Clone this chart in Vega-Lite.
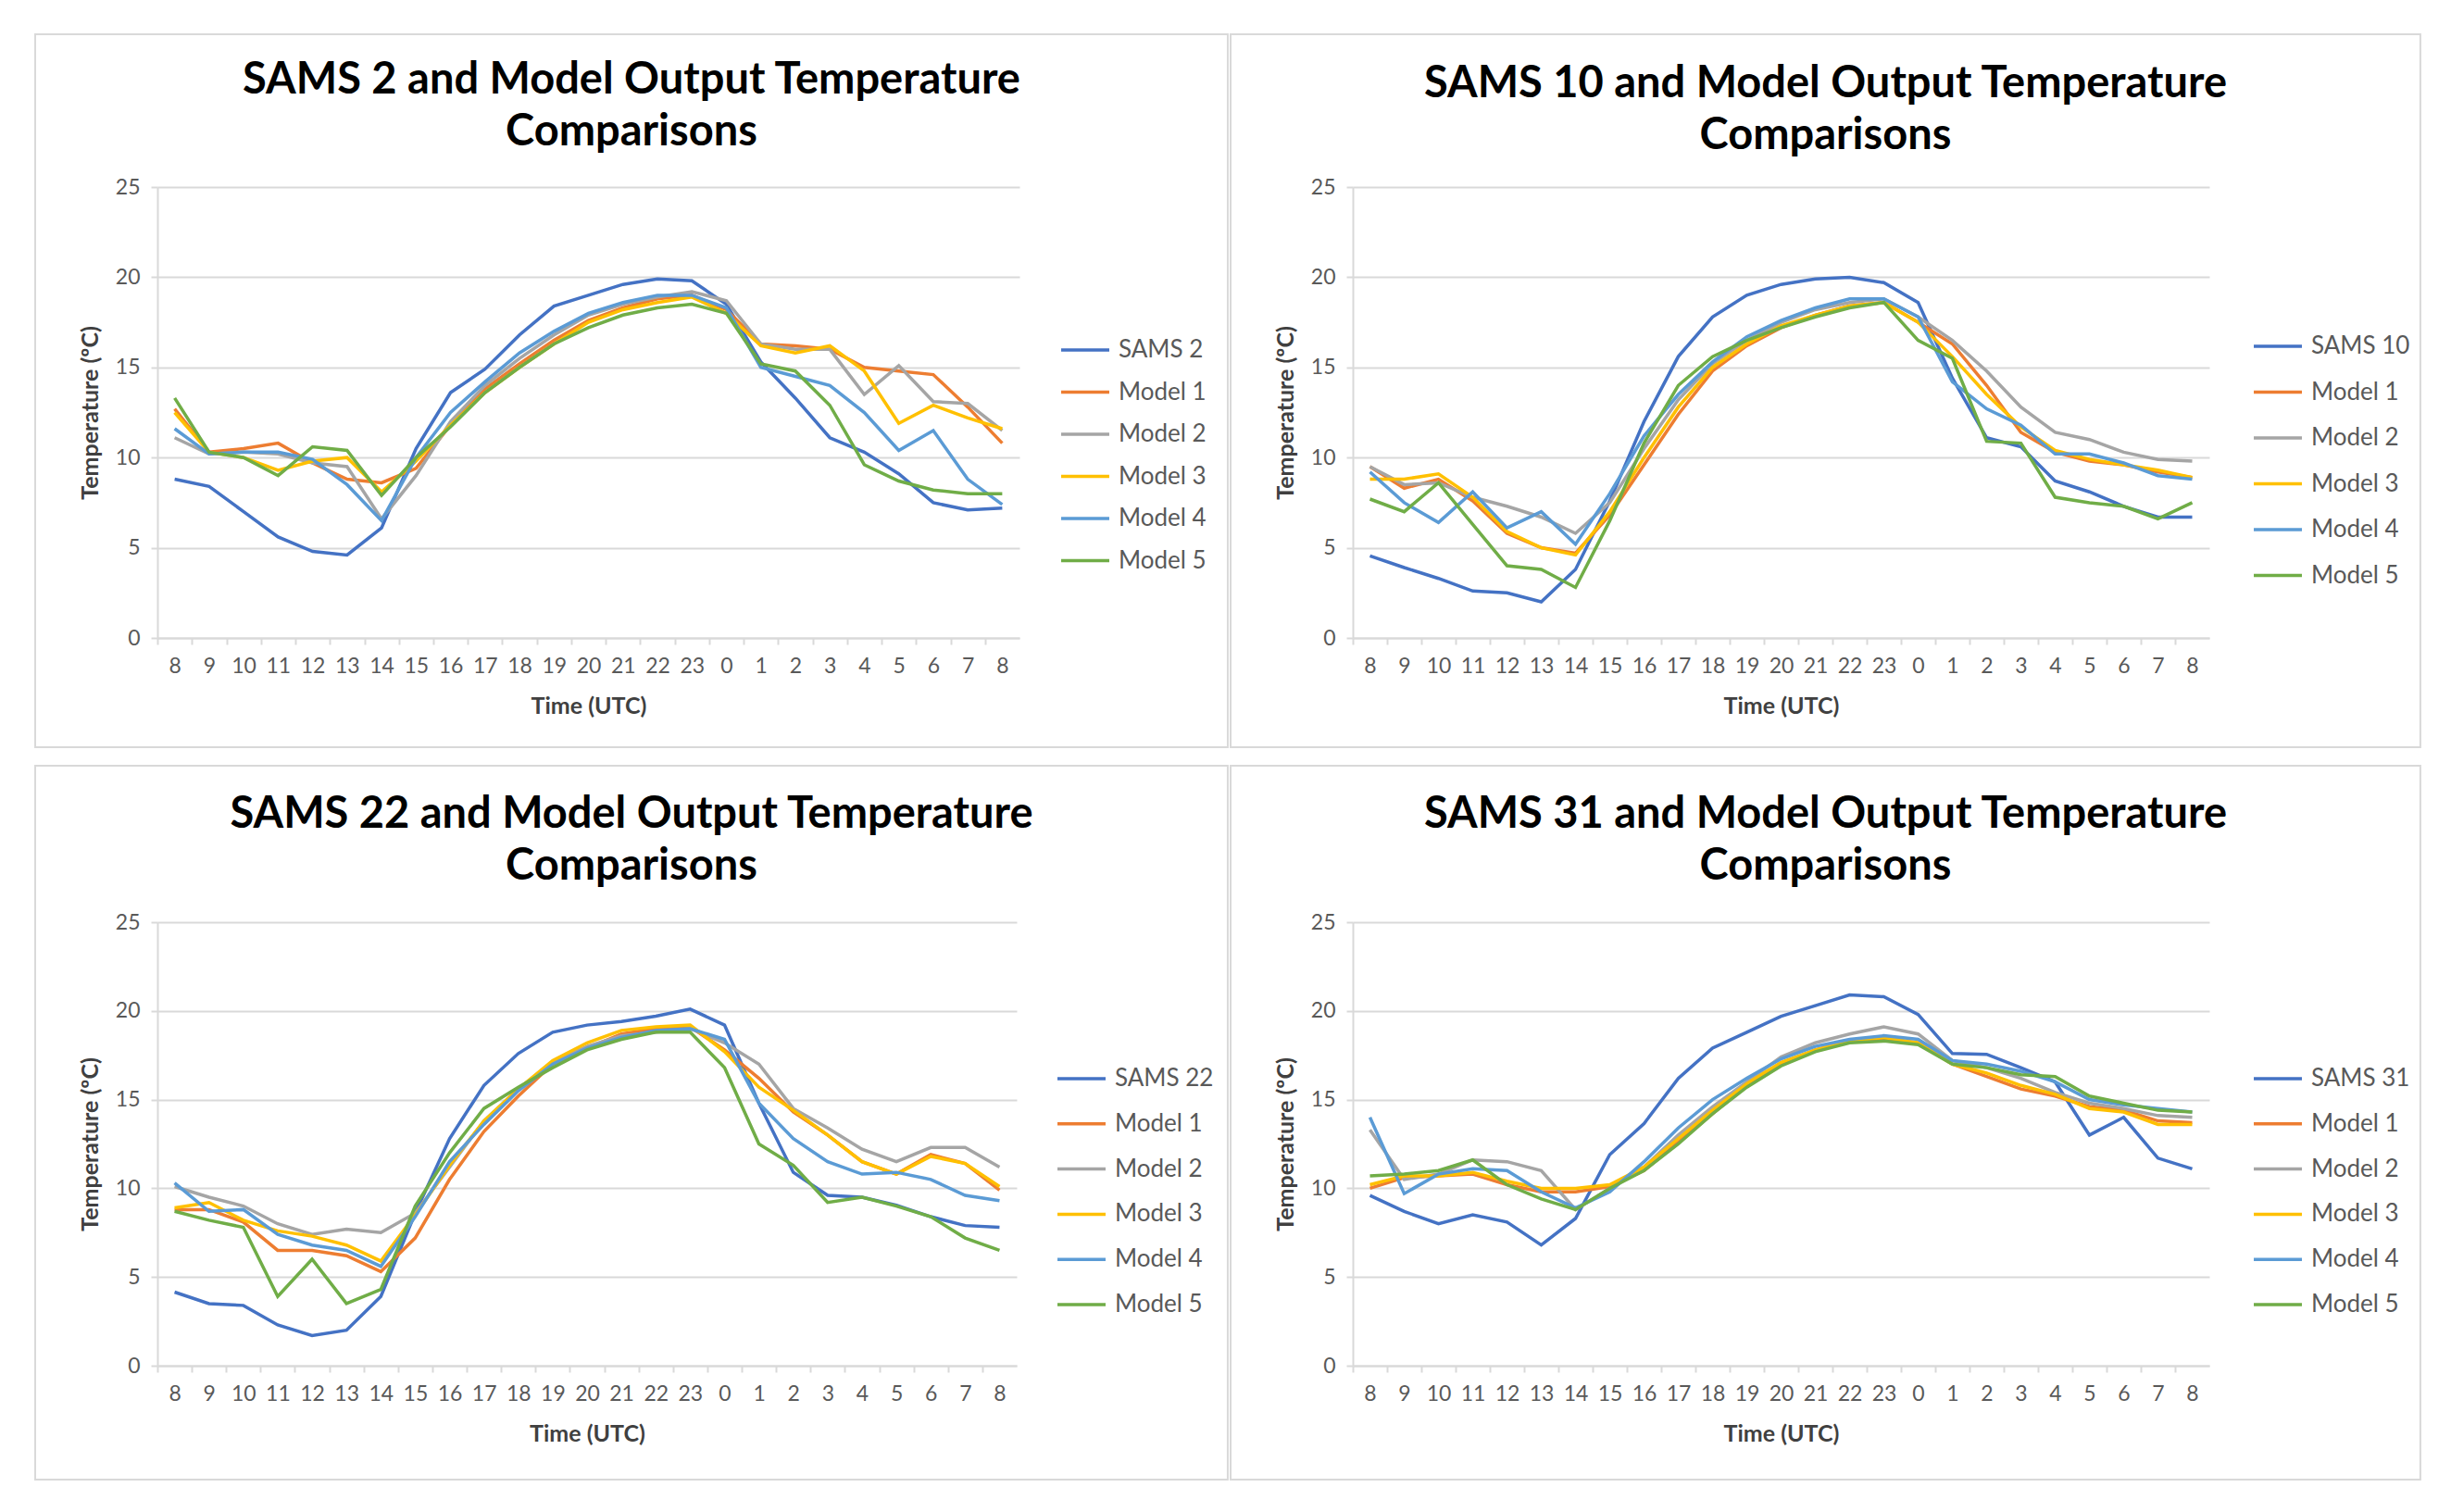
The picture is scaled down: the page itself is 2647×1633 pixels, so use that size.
{
  "$schema": "https://vega.github.io/schema/vega-lite/v6.json",
  "background": "white",
  "padding": {"left": 36, "top": 36, "right": 0, "bottom": 0},
  "config": {
    "font": "Lato",
    "view": {"stroke": null},
    "title": {"fontSize": 47, "fontWeight": "bold", "color": "#000000", "lineHeight": 56, "anchor": "middle", "frame": "bounds"},
    "axisX": {"labelOverlap": false, "labelFlush": false, "grid": false, "domainColor": "#D9D9D9", "domainWidth": 2, "tickColor": "#D9D9D9", "tickWidth": 2, "tickSize": 7, "tickOffset": -18.55, "labelOffset": 18.55, "labelPadding": 12, "labelFontSize": 23, "labelColor": "#595959", "titleFontSize": 25, "titleFontWeight": "bold", "titleColor": "#404040", "titlePadding": 19},
    "axisY": {"grid": true, "gridColor": "#D9D9D9", "gridWidth": 2, "domainColor": "#D9D9D9", "domainWidth": 2, "tickColor": "#D9D9D9", "tickSize": 7, "tickWidth": 2, "labelPadding": 12, "labelFontSize": 23, "labelColor": "#595959", "titleFontSize": 25, "titleFontWeight": "bold", "titleColor": "#404040", "titlePadding": 14},
    "legend": {"title": null, "orient": "none", "symbolType": "stroke", "symbolStrokeWidth": 3.5, "symbolSize": 2700, "labelFontSize": 26, "labelColor": "#595959", "labelOffset": 8}
  },
  "datasets": {
    "p1": [
      {"i":0,"hour":8,"SAMS 2":8.8,"Model 1":12.7,"Model 2":11.1,"Model 3":12.5,"Model 4":11.6,"Model 5":13.3},
      {"i":1,"hour":9,"SAMS 2":8.4,"Model 1":10.3,"Model 2":10.2,"Model 3":10.3,"Model 4":10.2,"Model 5":10.3},
      {"i":2,"hour":10,"SAMS 2":7.0,"Model 1":10.5,"Model 2":10.3,"Model 3":10.0,"Model 4":10.3,"Model 5":10.0},
      {"i":3,"hour":11,"SAMS 2":5.6,"Model 1":10.8,"Model 2":10.2,"Model 3":9.3,"Model 4":10.3,"Model 5":9.0},
      {"i":4,"hour":12,"SAMS 2":4.8,"Model 1":9.7,"Model 2":9.7,"Model 3":9.8,"Model 4":9.9,"Model 5":10.6},
      {"i":5,"hour":13,"SAMS 2":4.6,"Model 1":8.8,"Model 2":9.5,"Model 3":10.0,"Model 4":8.5,"Model 5":10.4},
      {"i":6,"hour":14,"SAMS 2":6.1,"Model 1":8.6,"Model 2":6.6,"Model 3":8.1,"Model 4":6.5,"Model 5":7.9},
      {"i":7,"hour":15,"SAMS 2":10.5,"Model 1":9.4,"Model 2":9.0,"Model 3":9.8,"Model 4":10.0,"Model 5":10.0},
      {"i":8,"hour":16,"SAMS 2":13.6,"Model 1":11.8,"Model 2":12.0,"Model 3":11.8,"Model 4":12.5,"Model 5":11.7},
      {"i":9,"hour":17,"SAMS 2":14.9,"Model 1":13.8,"Model 2":14.0,"Model 3":13.6,"Model 4":14.2,"Model 5":13.6},
      {"i":10,"hour":18,"SAMS 2":16.8,"Model 1":15.2,"Model 2":15.5,"Model 3":15.0,"Model 4":15.8,"Model 5":15.0},
      {"i":11,"hour":19,"SAMS 2":18.4,"Model 1":16.5,"Model 2":16.8,"Model 3":16.3,"Model 4":17.0,"Model 5":16.3},
      {"i":12,"hour":20,"SAMS 2":19.0,"Model 1":17.6,"Model 2":17.9,"Model 3":17.5,"Model 4":18.0,"Model 5":17.2},
      {"i":13,"hour":21,"SAMS 2":19.6,"Model 1":18.3,"Model 2":18.5,"Model 3":18.2,"Model 4":18.6,"Model 5":17.9},
      {"i":14,"hour":22,"SAMS 2":19.9,"Model 1":18.8,"Model 2":18.9,"Model 3":18.6,"Model 4":19.0,"Model 5":18.3},
      {"i":15,"hour":23,"SAMS 2":19.8,"Model 1":19.0,"Model 2":19.2,"Model 3":18.9,"Model 4":19.0,"Model 5":18.5},
      {"i":16,"hour":0,"SAMS 2":18.5,"Model 1":18.2,"Model 2":18.7,"Model 3":18.0,"Model 4":18.3,"Model 5":18.0},
      {"i":17,"hour":1,"SAMS 2":15.3,"Model 1":16.3,"Model 2":16.3,"Model 3":16.2,"Model 4":15.0,"Model 5":15.2},
      {"i":18,"hour":2,"SAMS 2":13.3,"Model 1":16.2,"Model 2":16.0,"Model 3":15.8,"Model 4":14.5,"Model 5":14.8},
      {"i":19,"hour":3,"SAMS 2":11.1,"Model 1":16.0,"Model 2":16.0,"Model 3":16.2,"Model 4":14.0,"Model 5":12.9},
      {"i":20,"hour":4,"SAMS 2":10.3,"Model 1":15.0,"Model 2":13.5,"Model 3":14.8,"Model 4":12.5,"Model 5":9.6},
      {"i":21,"hour":5,"SAMS 2":9.1,"Model 1":14.8,"Model 2":15.1,"Model 3":11.9,"Model 4":10.4,"Model 5":8.7},
      {"i":22,"hour":6,"SAMS 2":7.5,"Model 1":14.6,"Model 2":13.1,"Model 3":12.9,"Model 4":11.5,"Model 5":8.2},
      {"i":23,"hour":7,"SAMS 2":7.1,"Model 1":12.8,"Model 2":13.0,"Model 3":12.2,"Model 4":8.8,"Model 5":8.0},
      {"i":24,"hour":8,"SAMS 2":7.2,"Model 1":10.8,"Model 2":11.5,"Model 3":11.6,"Model 4":7.4,"Model 5":8.0}
    ],
    "p2": [
      {"i":0,"hour":8,"SAMS 10":4.55,"Model 1":9.5,"Model 2":9.5,"Model 3":8.8,"Model 4":9.2,"Model 5":7.7},
      {"i":1,"hour":9,"SAMS 10":3.9,"Model 1":8.3,"Model 2":8.5,"Model 3":8.8,"Model 4":7.5,"Model 5":7.0},
      {"i":2,"hour":10,"SAMS 10":3.3,"Model 1":8.8,"Model 2":8.6,"Model 3":9.1,"Model 4":6.4,"Model 5":8.6},
      {"i":3,"hour":11,"SAMS 10":2.6,"Model 1":7.6,"Model 2":7.8,"Model 3":7.8,"Model 4":8.1,"Model 5":6.3},
      {"i":4,"hour":12,"SAMS 10":2.5,"Model 1":5.8,"Model 2":7.3,"Model 3":5.9,"Model 4":6.1,"Model 5":4.0},
      {"i":5,"hour":13,"SAMS 10":2.0,"Model 1":5.0,"Model 2":6.7,"Model 3":5.0,"Model 4":7.0,"Model 5":3.8},
      {"i":6,"hour":14,"SAMS 10":3.8,"Model 1":4.7,"Model 2":5.8,"Model 3":4.6,"Model 4":5.2,"Model 5":2.8},
      {"i":7,"hour":15,"SAMS 10":7.6,"Model 1":6.8,"Model 2":7.5,"Model 3":7.0,"Model 4":8.0,"Model 5":6.5},
      {"i":8,"hour":16,"SAMS 10":12.0,"Model 1":9.6,"Model 2":10.5,"Model 3":10.0,"Model 4":11.2,"Model 5":10.8},
      {"i":9,"hour":17,"SAMS 10":15.6,"Model 1":12.4,"Model 2":13.2,"Model 3":12.8,"Model 4":13.5,"Model 5":14.0},
      {"i":10,"hour":18,"SAMS 10":17.8,"Model 1":14.8,"Model 2":15.2,"Model 3":15.0,"Model 4":15.3,"Model 5":15.6},
      {"i":11,"hour":19,"SAMS 10":19.0,"Model 1":16.2,"Model 2":16.5,"Model 3":16.3,"Model 4":16.7,"Model 5":16.5},
      {"i":12,"hour":20,"SAMS 10":19.6,"Model 1":17.2,"Model 2":17.5,"Model 3":17.3,"Model 4":17.6,"Model 5":17.2},
      {"i":13,"hour":21,"SAMS 10":19.9,"Model 1":17.9,"Model 2":18.2,"Model 3":17.9,"Model 4":18.3,"Model 5":17.8},
      {"i":14,"hour":22,"SAMS 10":20.0,"Model 1":18.4,"Model 2":18.6,"Model 3":18.4,"Model 4":18.8,"Model 5":18.3},
      {"i":15,"hour":23,"SAMS 10":19.7,"Model 1":18.6,"Model 2":18.8,"Model 3":18.6,"Model 4":18.8,"Model 5":18.6},
      {"i":16,"hour":0,"SAMS 10":18.6,"Model 1":17.5,"Model 2":17.8,"Model 3":17.5,"Model 4":17.8,"Model 5":16.5},
      {"i":17,"hour":1,"SAMS 10":14.4,"Model 1":16.3,"Model 2":16.5,"Model 3":15.6,"Model 4":14.2,"Model 5":15.5},
      {"i":18,"hour":2,"SAMS 10":11.1,"Model 1":14.0,"Model 2":14.8,"Model 3":13.5,"Model 4":12.7,"Model 5":10.9},
      {"i":19,"hour":3,"SAMS 10":10.6,"Model 1":11.4,"Model 2":12.8,"Model 3":11.7,"Model 4":11.8,"Model 5":10.8},
      {"i":20,"hour":4,"SAMS 10":8.7,"Model 1":10.3,"Model 2":11.4,"Model 3":10.4,"Model 4":10.2,"Model 5":7.8},
      {"i":21,"hour":5,"SAMS 10":8.1,"Model 1":9.8,"Model 2":11.0,"Model 3":9.9,"Model 4":10.2,"Model 5":7.5},
      {"i":22,"hour":6,"SAMS 10":7.3,"Model 1":9.6,"Model 2":10.3,"Model 3":9.6,"Model 4":9.7,"Model 5":7.3},
      {"i":23,"hour":7,"SAMS 10":6.7,"Model 1":9.2,"Model 2":9.9,"Model 3":9.3,"Model 4":9.0,"Model 5":6.6},
      {"i":24,"hour":8,"SAMS 10":6.7,"Model 1":8.9,"Model 2":9.8,"Model 3":8.9,"Model 4":8.8,"Model 5":7.5}
    ],
    "p3": [
      {"i":0,"hour":8,"SAMS 22":4.15,"Model 1":8.8,"Model 2":10.1,"Model 3":8.9,"Model 4":10.3,"Model 5":8.7},
      {"i":1,"hour":9,"SAMS 22":3.5,"Model 1":8.8,"Model 2":9.5,"Model 3":9.2,"Model 4":8.7,"Model 5":8.2},
      {"i":2,"hour":10,"SAMS 22":3.4,"Model 1":8.1,"Model 2":9.0,"Model 3":8.2,"Model 4":8.8,"Model 5":7.8},
      {"i":3,"hour":11,"SAMS 22":2.3,"Model 1":6.5,"Model 2":8.0,"Model 3":7.6,"Model 4":7.4,"Model 5":3.9},
      {"i":4,"hour":12,"SAMS 22":1.7,"Model 1":6.5,"Model 2":7.4,"Model 3":7.3,"Model 4":6.8,"Model 5":6.0},
      {"i":5,"hour":13,"SAMS 22":2.0,"Model 1":6.2,"Model 2":7.7,"Model 3":6.8,"Model 4":6.5,"Model 5":3.5},
      {"i":6,"hour":14,"SAMS 22":3.9,"Model 1":5.3,"Model 2":7.5,"Model 3":5.9,"Model 4":5.6,"Model 5":4.3},
      {"i":7,"hour":15,"SAMS 22":8.6,"Model 1":7.2,"Model 2":8.6,"Model 3":8.5,"Model 4":8.4,"Model 5":9.0},
      {"i":8,"hour":16,"SAMS 22":12.8,"Model 1":10.5,"Model 2":11.2,"Model 3":11.3,"Model 4":11.5,"Model 5":12.0},
      {"i":9,"hour":17,"SAMS 22":15.8,"Model 1":13.2,"Model 2":13.8,"Model 3":13.8,"Model 4":13.6,"Model 5":14.5},
      {"i":10,"hour":18,"SAMS 22":17.6,"Model 1":15.2,"Model 2":15.6,"Model 3":15.6,"Model 4":15.5,"Model 5":15.7},
      {"i":11,"hour":19,"SAMS 22":18.8,"Model 1":17.0,"Model 2":17.1,"Model 3":17.2,"Model 4":17.0,"Model 5":16.8},
      {"i":12,"hour":20,"SAMS 22":19.2,"Model 1":17.9,"Model 2":18.0,"Model 3":18.2,"Model 4":17.9,"Model 5":17.8},
      {"i":13,"hour":21,"SAMS 22":19.4,"Model 1":18.7,"Model 2":18.6,"Model 3":18.9,"Model 4":18.5,"Model 5":18.4},
      {"i":14,"hour":22,"SAMS 22":19.7,"Model 1":19.0,"Model 2":18.8,"Model 3":19.1,"Model 4":18.9,"Model 5":18.8},
      {"i":15,"hour":23,"SAMS 22":20.1,"Model 1":19.1,"Model 2":19.0,"Model 3":19.2,"Model 4":19.0,"Model 5":18.8},
      {"i":16,"hour":0,"SAMS 22":19.2,"Model 1":17.8,"Model 2":18.2,"Model 3":17.7,"Model 4":18.4,"Model 5":16.8},
      {"i":17,"hour":1,"SAMS 22":14.8,"Model 1":16.2,"Model 2":17.0,"Model 3":15.7,"Model 4":14.8,"Model 5":12.5},
      {"i":18,"hour":2,"SAMS 22":10.9,"Model 1":14.3,"Model 2":14.5,"Model 3":14.4,"Model 4":12.8,"Model 5":11.3},
      {"i":19,"hour":3,"SAMS 22":9.6,"Model 1":13.0,"Model 2":13.4,"Model 3":13.0,"Model 4":11.5,"Model 5":9.2},
      {"i":20,"hour":4,"SAMS 22":9.5,"Model 1":11.5,"Model 2":12.2,"Model 3":11.5,"Model 4":10.8,"Model 5":9.5},
      {"i":21,"hour":5,"SAMS 22":9.05,"Model 1":10.8,"Model 2":11.5,"Model 3":10.8,"Model 4":10.9,"Model 5":9.0},
      {"i":22,"hour":6,"SAMS 22":8.4,"Model 1":11.9,"Model 2":12.3,"Model 3":11.8,"Model 4":10.5,"Model 5":8.4},
      {"i":23,"hour":7,"SAMS 22":7.9,"Model 1":11.4,"Model 2":12.3,"Model 3":11.4,"Model 4":9.6,"Model 5":7.2},
      {"i":24,"hour":8,"SAMS 22":7.8,"Model 1":9.9,"Model 2":11.2,"Model 3":10.1,"Model 4":9.3,"Model 5":6.5}
    ],
    "p4": [
      {"i":0,"hour":8,"SAMS 31":9.6,"Model 1":10.0,"Model 2":13.3,"Model 3":10.2,"Model 4":14.0,"Model 5":10.7},
      {"i":1,"hour":9,"SAMS 31":8.7,"Model 1":10.6,"Model 2":10.5,"Model 3":10.7,"Model 4":9.7,"Model 5":10.8},
      {"i":2,"hour":10,"SAMS 31":8.0,"Model 1":10.7,"Model 2":10.8,"Model 3":10.7,"Model 4":10.8,"Model 5":11.0},
      {"i":3,"hour":11,"SAMS 31":8.5,"Model 1":10.8,"Model 2":11.6,"Model 3":10.9,"Model 4":11.1,"Model 5":11.6},
      {"i":4,"hour":12,"SAMS 31":8.1,"Model 1":10.2,"Model 2":11.5,"Model 3":10.4,"Model 4":11.0,"Model 5":10.2},
      {"i":5,"hour":13,"SAMS 31":6.8,"Model 1":9.8,"Model 2":11.0,"Model 3":10.0,"Model 4":9.8,"Model 5":9.4},
      {"i":6,"hour":14,"SAMS 31":8.3,"Model 1":9.8,"Model 2":8.8,"Model 3":10.0,"Model 4":8.9,"Model 5":8.8},
      {"i":7,"hour":15,"SAMS 31":11.9,"Model 1":10.1,"Model 2":10.0,"Model 3":10.2,"Model 4":9.8,"Model 5":10.0},
      {"i":8,"hour":16,"SAMS 31":13.65,"Model 1":11.0,"Model 2":11.2,"Model 3":11.2,"Model 4":11.5,"Model 5":11.0},
      {"i":9,"hour":17,"SAMS 31":16.2,"Model 1":12.6,"Model 2":13.0,"Model 3":12.8,"Model 4":13.4,"Model 5":12.5},
      {"i":10,"hour":18,"SAMS 31":17.9,"Model 1":14.2,"Model 2":14.6,"Model 3":14.4,"Model 4":15.0,"Model 5":14.2},
      {"i":11,"hour":19,"SAMS 31":18.8,"Model 1":15.8,"Model 2":16.0,"Model 3":15.9,"Model 4":16.2,"Model 5":15.7},
      {"i":12,"hour":20,"SAMS 31":19.7,"Model 1":17.0,"Model 2":17.4,"Model 3":17.1,"Model 4":17.3,"Model 5":16.9},
      {"i":13,"hour":21,"SAMS 31":20.3,"Model 1":17.8,"Model 2":18.2,"Model 3":17.8,"Model 4":18.0,"Model 5":17.7},
      {"i":14,"hour":22,"SAMS 31":20.9,"Model 1":18.3,"Model 2":18.7,"Model 3":18.3,"Model 4":18.4,"Model 5":18.2},
      {"i":15,"hour":23,"SAMS 31":20.8,"Model 1":18.4,"Model 2":19.1,"Model 3":18.5,"Model 4":18.6,"Model 5":18.3},
      {"i":16,"hour":0,"SAMS 31":19.8,"Model 1":18.2,"Model 2":18.7,"Model 3":18.2,"Model 4":18.4,"Model 5":18.1},
      {"i":17,"hour":1,"SAMS 31":17.6,"Model 1":17.0,"Model 2":17.2,"Model 3":17.0,"Model 4":17.2,"Model 5":17.0},
      {"i":18,"hour":2,"SAMS 31":17.55,"Model 1":16.3,"Model 2":16.8,"Model 3":16.5,"Model 4":17.0,"Model 5":16.8},
      {"i":19,"hour":3,"SAMS 31":16.8,"Model 1":15.6,"Model 2":16.2,"Model 3":15.8,"Model 4":16.6,"Model 5":16.4},
      {"i":20,"hour":4,"SAMS 31":16.0,"Model 1":15.2,"Model 2":15.4,"Model 3":15.3,"Model 4":16.0,"Model 5":16.3},
      {"i":21,"hour":5,"SAMS 31":13.0,"Model 1":14.6,"Model 2":14.8,"Model 3":14.5,"Model 4":15.0,"Model 5":15.2},
      {"i":22,"hour":6,"SAMS 31":14.0,"Model 1":14.4,"Model 2":14.5,"Model 3":14.3,"Model 4":14.7,"Model 5":14.8},
      {"i":23,"hour":7,"SAMS 31":11.7,"Model 1":13.8,"Model 2":14.1,"Model 3":13.6,"Model 4":14.5,"Model 5":14.4},
      {"i":24,"hour":8,"SAMS 31":11.1,"Model 1":13.7,"Model 2":14.0,"Model 3":13.6,"Model 4":14.3,"Model 5":14.3}
    ]
  },
  "columns": 2,
  "spacing": {"row": 17, "column": 0},
  "resolve": {"scale": {"color": "independent"}, "legend": {"color": "independent"}},
  "concat": [
    {
      "width": 931, "height": 487,
      "title": {"text": ["SAMS 2 and Model Output Temperature", "Comparisons"], "offset": -131},
      "layer": [
        {"data": {"values": [{}]}, "mark": {"type": "rect", "filled": false, "stroke": "#D9D9D9", "strokeWidth": 2},
         "encoding": {"x": {"datum": -4.045, "type": "quantitative", "title": "Time (UTC)", "axis": {"values": [0,1,2,3,4,5,6,7,8,9,10,11,12,13,14,15,16,17,18,19,20,21,22,23,24], "labelExpr": "'' + ((datum.value + 8) % 24)", "labelOverlap": false}}, "x2": {"datum": 30.54},
                      "y": {"datum": 33.47, "type": "quantitative", "title": "Temperature (ºC)", "axis": {"values": [0,5,10,15,20,25]}}, "y2": {"datum": -6.06}}},
        {"data": {"name": "p1"}, "transform": [{"fold": ["SAMS 2", "Model 1", "Model 2", "Model 3", "Model 4", "Model 5"], "as": ["series", "temp"]}],
         "mark": {"type": "line", "strokeWidth": 3.5},
         "encoding": {
           "x": {"field": "i", "type": "quantitative", "title": "Time (UTC)", "scale": {"domain": [-0.5, 24.5], "nice": false, "zero": false},
                 "axis": {"values": [0,1,2,3,4,5,6,7,8,9,10,11,12,13,14,15,16,17,18,19,20,21,22,23,24], "labelExpr": "'' + ((datum.value + 8) % 24)", "labelOverlap": false}},
           "y": {"field": "temp", "type": "quantitative", "title": "Temperature (ºC)", "scale": {"domain": [0, 25], "nice": false},
                 "axis": {"values": [0,5,10,15,20,25]}},
           "color": {"field": "series", "type": "nominal",
                     "scale": {"domain": ["SAMS 2", "Model 1", "Model 2", "Model 3", "Model 4", "Model 5"], "range": ["#4472C4", "#ED7D31", "#A5A5A5", "#FFC000", "#5B9BD5", "#70AD47"]},
                     "legend": {"orient": "none", "legendX": 974, "legendY": 148, "rowPadding": 4.5}}
         }}
      ]
    },
    {
      "width": 925, "height": 487,
      "title": {"text": ["SAMS 10 and Model Output Temperature", "Comparisons"], "offset": -135},
      "layer": [
        {"data": {"values": [{}]}, "mark": {"type": "rect", "filled": false, "stroke": "#D9D9D9", "strokeWidth": 2},
         "encoding": {"x": {"datum": -4.068, "type": "quantitative", "title": "Time (UTC)", "axis": {"values": [0,1,2,3,4,5,6,7,8,9,10,11,12,13,14,15,16,17,18,19,20,21,22,23,24], "labelExpr": "'' + ((datum.value + 8) % 24)", "labelOverlap": false}}, "x2": {"datum": 30.66},
                      "y": {"datum": 33.47, "type": "quantitative", "title": "Temperature (ºC)", "axis": {"values": [0,5,10,15,20,25]}}, "y2": {"datum": -6.06}}},
        {"data": {"name": "p2"}, "transform": [{"fold": ["SAMS 10", "Model 1", "Model 2", "Model 3", "Model 4", "Model 5"], "as": ["series", "temp"]}],
         "mark": {"type": "line", "strokeWidth": 3.5},
         "encoding": {
           "x": {"field": "i", "type": "quantitative", "title": "Time (UTC)", "scale": {"domain": [-0.5, 24.5], "nice": false, "zero": false},
                 "axis": {"values": [0,1,2,3,4,5,6,7,8,9,10,11,12,13,14,15,16,17,18,19,20,21,22,23,24], "labelExpr": "'' + ((datum.value + 8) % 24)", "labelOverlap": false}},
           "y": {"field": "temp", "type": "quantitative", "title": "Temperature (ºC)", "scale": {"domain": [0, 25], "nice": false},
                 "axis": {"values": [0,5,10,15,20,25]}},
           "color": {"field": "series", "type": "nominal",
                     "scale": {"domain": ["SAMS 10", "Model 1", "Model 2", "Model 3", "Model 4", "Model 5"], "range": ["#4472C4", "#ED7D31", "#A5A5A5", "#FFC000", "#5B9BD5", "#70AD47"]},
                     "legend": {"orient": "none", "legendX": 971, "legendY": 144, "rowPadding": 8.5}}
         }}
      ]
    },
    {
      "width": 928, "height": 479,
      "title": {"text": ["SAMS 22 and Model Output Temperature", "Comparisons"], "offset": -134},
      "layer": [
        {"data": {"values": [{}]}, "mark": {"type": "rect", "filled": false, "stroke": "#D9D9D9", "strokeWidth": 2},
         "encoding": {"x": {"datum": -4.056, "type": "quantitative", "title": "Time (UTC)", "axis": {"values": [0,1,2,3,4,5,6,7,8,9,10,11,12,13,14,15,16,17,18,19,20,21,22,23,24], "labelExpr": "'' + ((datum.value + 8) % 24)", "labelOverlap": false}}, "x2": {"datum": 30.64},
                      "y": {"datum": 33.82, "type": "quantitative", "title": "Temperature (ºC)", "axis": {"values": [0,5,10,15,20,25]}}, "y2": {"datum": -6.42}}},
        {"data": {"name": "p3"}, "transform": [{"fold": ["SAMS 22", "Model 1", "Model 2", "Model 3", "Model 4", "Model 5"], "as": ["series", "temp"]}],
         "mark": {"type": "line", "strokeWidth": 3.5},
         "encoding": {
           "x": {"field": "i", "type": "quantitative", "title": "Time (UTC)", "scale": {"domain": [-0.5, 24.5], "nice": false, "zero": false},
                 "axis": {"values": [0,1,2,3,4,5,6,7,8,9,10,11,12,13,14,15,16,17,18,19,20,21,22,23,24], "labelExpr": "'' + ((datum.value + 8) % 24)", "labelOverlap": false}},
           "y": {"field": "temp", "type": "quantitative", "title": "Temperature (ºC)", "scale": {"domain": [0, 25], "nice": false},
                 "axis": {"values": [0,5,10,15,20,25]}},
           "color": {"field": "series", "type": "nominal",
                     "scale": {"domain": ["SAMS 22", "Model 1", "Model 2", "Model 3", "Model 4", "Model 5"], "range": ["#4472C4", "#ED7D31", "#A5A5A5", "#FFC000", "#5B9BD5", "#70AD47"]},
                     "legend": {"orient": "none", "legendX": 970, "legendY": 141, "rowPadding": 7.8}}
         }}
      ]
    },
    {
      "width": 925, "height": 479,
      "title": {"text": ["SAMS 31 and Model Output Temperature", "Comparisons"], "offset": -134},
      "layer": [
        {"data": {"values": [{}]}, "mark": {"type": "rect", "filled": false, "stroke": "#D9D9D9", "strokeWidth": 2},
         "encoding": {"x": {"datum": -4.068, "type": "quantitative", "title": "Time (UTC)", "axis": {"values": [0,1,2,3,4,5,6,7,8,9,10,11,12,13,14,15,16,17,18,19,20,21,22,23,24], "labelExpr": "'' + ((datum.value + 8) % 24)", "labelOverlap": false}}, "x2": {"datum": 30.66},
                      "y": {"datum": 33.82, "type": "quantitative", "title": "Temperature (ºC)", "axis": {"values": [0,5,10,15,20,25]}}, "y2": {"datum": -6.42}}},
        {"data": {"name": "p4"}, "transform": [{"fold": ["SAMS 31", "Model 1", "Model 2", "Model 3", "Model 4", "Model 5"], "as": ["series", "temp"]}],
         "mark": {"type": "line", "strokeWidth": 3.5},
         "encoding": {
           "x": {"field": "i", "type": "quantitative", "title": "Time (UTC)", "scale": {"domain": [-0.5, 24.5], "nice": false, "zero": false},
                 "axis": {"values": [0,1,2,3,4,5,6,7,8,9,10,11,12,13,14,15,16,17,18,19,20,21,22,23,24], "labelExpr": "'' + ((datum.value + 8) % 24)", "labelOverlap": false}},
           "y": {"field": "temp", "type": "quantitative", "title": "Temperature (ºC)", "scale": {"domain": [0, 25], "nice": false},
                 "axis": {"values": [0,5,10,15,20,25]}},
           "color": {"field": "series", "type": "nominal",
                     "scale": {"domain": ["SAMS 31", "Model 1", "Model 2", "Model 3", "Model 4", "Model 5"], "range": ["#4472C4", "#ED7D31", "#A5A5A5", "#FFC000", "#5B9BD5", "#70AD47"]},
                     "legend": {"orient": "none", "legendX": 971, "legendY": 141, "rowPadding": 7.8}}
         }}
      ]
    }
  ]
}
